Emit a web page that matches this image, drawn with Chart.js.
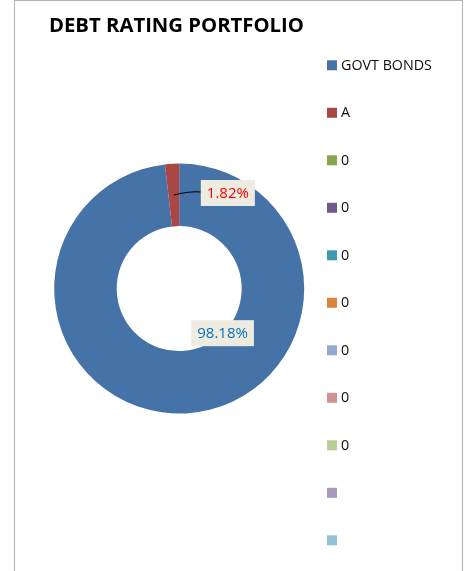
<!DOCTYPE html>
<html>
<head>
<meta charset="utf-8">
<script src="https://cdn.jsdelivr.net/npm/chart.js@4/dist/chart.umd.min.js"></script>
<style>
  html, body { margin: 0; padding: 0; background: #fff; overflow: hidden; }
  .frame {
    position: absolute; left: 14px; top: 0; width: 449px; height: 640px;
    box-sizing: border-box; border: 1px solid #b3b3b3;
  }
  #rating { position: absolute; left: 0; top: 0; }
</style>
</head>
<body>
<div class="frame"></div>
<canvas id="rating" width="470" height="571"></canvas>
<script>
/* global Chart */

// chart data
const ratingLabels = ['GOVT BONDS', 'A', '0', '0', '0', '0', '0', '0', '0', '', ''];
const ratingShares = [98.18, 1.82, 0, 0, 0, 0, 0, 0, 0, 0, 0];
const sliceColors = [
  '#4572A7', '#AA4643', '#89A54E', '#71588F', '#4198AF', '#DB843D',
  '#93A9CF', '#D19392', '#B9CD96', '#A99BBD', '#92C3D5',
];

// legend on the right, drawn from the chart data
const sideLegend = {
  id: 'sideLegend',
  afterDraw(chart, args, opts) {
    const { ctx, chartArea } = chart;
    const ds = chart.data.datasets[0];
    const left = chartArea.right + opts.gap;
    ctx.save();
    ctx.font = opts.font;
    ctx.textBaseline = 'middle';
    chart.data.labels.forEach((label, i) => {
      const y = opts.top + i * opts.spacing;
      ctx.fillStyle = ds.backgroundColor[i];
      ctx.fillRect(left, y - 5, 10, 10);
      ctx.fillStyle = opts.color;
      ctx.fillText(label, left + 14, y + 0.5);
    });
    ctx.restore();
  },
};

// percentage boxes, placed from each slice's centroid
const sliceLabels = {
  id: 'sliceLabels',
  afterDatasetsDraw(chart, args, opts) {
    const { ctx } = chart;
    const meta = chart.getDatasetMeta(0);
    ctx.save();
    ctx.font = opts.font;
    ctx.textAlign = 'center';
    ctx.textBaseline = 'middle';
    meta.data.forEach((arc, i) => {
      const value = chart.data.datasets[0].data[i];
      if (!value) return;
      const pos = arc.tooltipPosition();
      const [dx, dy] = opts.shift[i];
      const cx = pos.x + dx;
      const cy = pos.y + dy;
      const text = value.toFixed(2) + '%';
      const w = ctx.measureText(text).width + 12;
      const h = 26;
      if (opts.leader[i]) {
        ctx.strokeStyle = '#000';
        ctx.lineWidth = 1;
        ctx.beginPath();
        ctx.moveTo(pos.x, pos.y);
        ctx.quadraticCurveTo(pos.x + 16, cy - 2, cx - w / 2, cy - 1);
        ctx.stroke();
      }
      ctx.fillStyle = '#EEECE1';
      ctx.fillRect(cx - w / 2, cy - h / 2, w, h);
      ctx.fillStyle = opts.colors[i];
      ctx.fillText(text, cx, cy + 1);
    });
    ctx.restore();
  },
};

new Chart('rating', {
  type: 'doughnut',
  data: {
    labels: ratingLabels,
    datasets: [
      {
        data: ratingShares,
        backgroundColor: sliceColors,
        borderWidth: 0,
        radius: 125,
      },
    ],
  },
  options: {
    responsive: false,
    animation: false,
    events: [],
    cutout: '50%',
    layout: {
      padding: { left: 49, right: 160.6, top: 0, bottom: 41.5 },
    },
    plugins: {
      legend: { display: false },
      tooltip: { enabled: false },
      title: {
        display: true,
        text: 'DEBT RATING PORTFOLIO',
        align: 'start',
        color: '#000',
        font: { family: 'Open Sans', size: 20.3, weight: 'bold', lineHeight: 1.2 },
        padding: { top: 13.8, bottom: 9.5 },
      },
      sideLegend: {
        gap: 17.6,
        top: 65.3,
        spacing: 47.5,
        font: '14.3px "Open Sans"',
        color: '#0d0d0d',
      },
      sliceLabels: {
        font: '15px "Open Sans"',
        shift: [[38, -49], [54, -2]],
        leader: [false, true],
        colors: ['#0A70C2', '#FF0000'],
      },
    },
  },
  plugins: [sideLegend, sliceLabels],
});
</script>
</body>
</html>
